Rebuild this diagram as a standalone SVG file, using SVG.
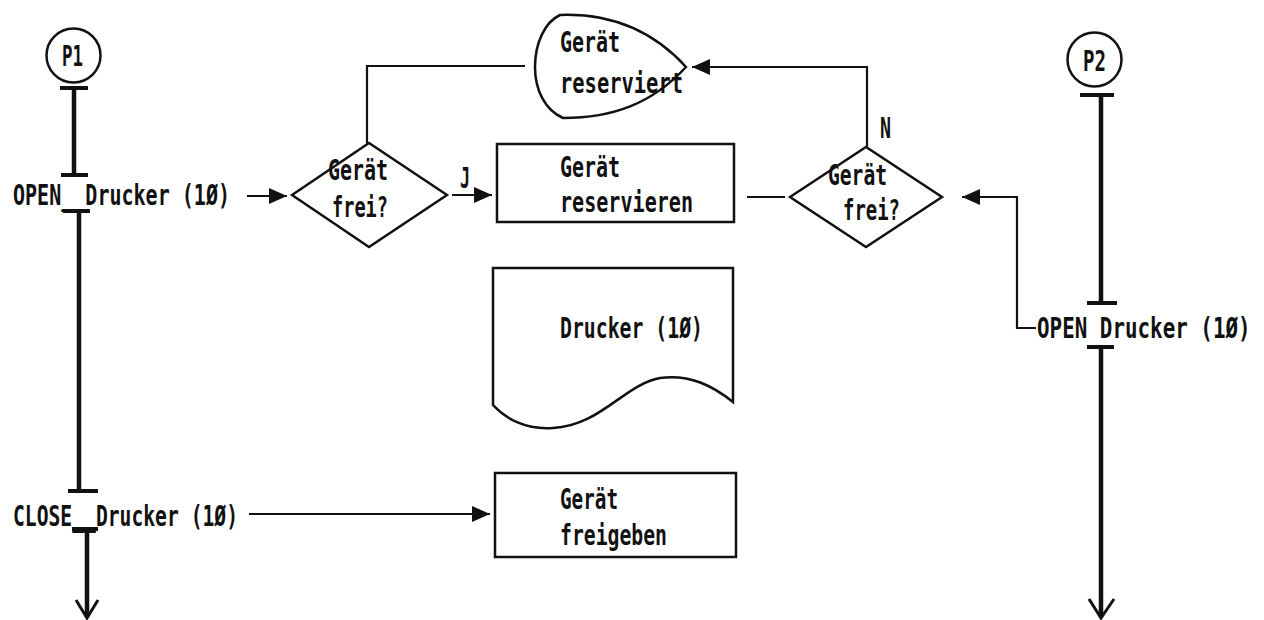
<svg xmlns="http://www.w3.org/2000/svg" width="1264" height="620" viewBox="0 0 1264 620">
  <style>
    text { font-family: "DejaVu Sans Mono", "Liberation Mono", monospace; font-size: 28px; font-weight: bold; fill: #111; }
    .shape { fill: none; stroke: #111; stroke-width: 2.5; }
    .flow { fill: none; stroke: #111; stroke-width: 4.5; }
    .bar { fill: none; stroke: #111; stroke-width: 4; }
    .conn { fill: none; stroke: #111; stroke-width: 2.2; }
    .open-head { fill: none; stroke: #111; stroke-width: 3; }
  </style>
  <defs>
    <marker id="arrow" markerUnits="userSpaceOnUse" markerWidth="20" markerHeight="18" refX="18" refY="9" orient="auto">
      <path d="M0,1 L18,9 L0,17 Z" fill="#111"/>
    </marker>
  </defs>
  <rect width="1264" height="620" fill="#fff"/>

  <!-- process P1 -->
  <g id="p1">
    <circle cx="73.5" cy="55.5" r="27" class="shape"/>
    <text x="62" y="66" textLength="21" lengthAdjust="spacingAndGlyphs">P1</text>
  </g>

  <!-- process P2 -->
  <g id="p2">
    <circle cx="1094.5" cy="59.5" r="27" class="shape"/>
    <text x="1083" y="71" textLength="23" lengthAdjust="spacingAndGlyphs">P2</text>
  </g>

  <!-- P1 statements -->
  <g id="p1-open">
    <text x="13" y="205" textLength="217" lengthAdjust="spacingAndGlyphs">OPEN__Drucker (1Ø)</text>
  </g>
  <g id="p1-close">
    <text x="13" y="526" textLength="225" lengthAdjust="spacingAndGlyphs">CLOSE__Drucker (1Ø)</text>
  </g>

  <!-- P2 statement (condensed by a horizontal scale) -->
  <g id="p2-open" transform="translate(1037,338) scale(0.705,1)">
    <text x="0" y="0" textLength="303" lengthAdjust="spacingAndGlyphs">OPEN  Drucker (1Ø)</text>
  </g>

  <!-- decision: device free? (P1 side) -->
  <g id="decision-left">
    <polygon points="292,195 369,143 447,195 369,247" class="shape"/>
    <text x="328" y="180" textLength="60" lengthAdjust="spacingAndGlyphs">Gerät</text>
    <text x="332" y="217" textLength="56" lengthAdjust="spacingAndGlyphs">frei?</text>
  </g>

  <!-- decision: device free? (P2 side) -->
  <g id="decision-right">
    <polygon points="790,197 866,147 942,197 866,247" class="shape"/>
    <text x="828" y="185" textLength="59" lengthAdjust="spacingAndGlyphs">Gerät</text>
    <text x="843" y="220" textLength="57" lengthAdjust="spacingAndGlyphs">frei?</text>
  </g>

  <!-- display: device reserved -->
  <g id="reserved">
    <path d="M560,15 C615,13 655,33 686,67 C652,104 612,118 563,118 C545,110 535,90 535,67 C535,43 545,22 560,15 Z" class="shape"/>
    <text x="560" y="52" textLength="60" lengthAdjust="spacingAndGlyphs">Gerät</text>
    <text x="560" y="93" textLength="123" lengthAdjust="spacingAndGlyphs">reserviert</text>
  </g>

  <!-- process: reserve device -->
  <g id="reserve">
    <rect x="497" y="144" width="237" height="78" class="shape"/>
    <text x="560" y="177" textLength="60" lengthAdjust="spacingAndGlyphs">Gerät</text>
    <text x="560" y="212" textLength="133" lengthAdjust="spacingAndGlyphs">reservieren</text>
  </g>

  <!-- document: printer -->
  <g id="printer">
    <path d="M493,268 H733 V402 C713,386 690,374 660,378 C625,384 600,426 553,428 C525,430 505,418 493,405 Z" class="shape"/>
    <text x="560" y="338" textLength="143" lengthAdjust="spacingAndGlyphs">Drucker (1Ø)</text>
  </g>

  <!-- process: release device -->
  <g id="release">
    <rect x="495" y="473" width="241" height="84" class="shape"/>
    <text x="560" y="509" textLength="58" lengthAdjust="spacingAndGlyphs">Gerät</text>
    <text x="560" y="545" textLength="107" lengthAdjust="spacingAndGlyphs">freigeben</text>
  </g>

  <!-- connectors -->
  <g id="connectors">
    <!-- P1 control flow -->
    <line x1="74" y1="88" x2="74" y2="175" class="flow"/>
    <line x1="60" y1="88" x2="88" y2="88" class="bar"/>
    <line x1="61" y1="175" x2="88" y2="175" class="bar"/>
    <line x1="79" y1="211" x2="79" y2="491" class="flow"/>
    <line x1="63" y1="211" x2="90" y2="211" class="bar"/>
    <line x1="68" y1="491" x2="98" y2="491" class="bar"/>
    <line x1="87" y1="529" x2="87" y2="617" class="flow"/>
    <line x1="72" y1="529" x2="98" y2="529" class="bar"/>
    <polyline points="76,600 87,618 98,600" class="open-head"/>

    <!-- P2 control flow -->
    <line x1="1101" y1="95" x2="1101" y2="303" class="flow"/>
    <line x1="1080" y1="95" x2="1114" y2="95" class="bar"/>
    <line x1="1087" y1="303" x2="1117" y2="303" class="bar"/>
    <line x1="1101" y1="347" x2="1101" y2="617" class="flow"/>
    <line x1="1087" y1="347" x2="1114" y2="347" class="bar"/>
    <polyline points="1089,599 1101,618 1114,599" class="open-head"/>

    <!-- OPEN (P1) to decision -->
    <line x1="247" y1="196" x2="287" y2="196" class="conn" marker-end="url(#arrow)"/>
    <!-- J: to reserve -->
    <line x1="452" y1="195" x2="492" y2="195" class="conn" marker-end="url(#arrow)"/>
    <text x="460" y="188" textLength="10" lengthAdjust="spacingAndGlyphs">J</text>
    <!-- loop back from reserved display -->
    <polyline points="367,143 367,66 525,66" class="conn"/>
    <!-- N: to reserved display -->
    <polyline points="867,147 867,67 692,67" class="conn" marker-end="url(#arrow)"/>
    <text x="880" y="138" textLength="11" lengthAdjust="spacingAndGlyphs">N</text>
    <!-- reserve to P2 decision -->
    <line x1="747" y1="197" x2="785" y2="197" class="conn"/>
    <!-- OPEN (P2) to decision -->
    <polyline points="1036,328 1017,328 1017,197 962,197" class="conn" marker-end="url(#arrow)"/>
    <!-- CLOSE to release -->
    <line x1="249" y1="514" x2="490" y2="514" class="conn" marker-end="url(#arrow)"/>
  </g>
</svg>
